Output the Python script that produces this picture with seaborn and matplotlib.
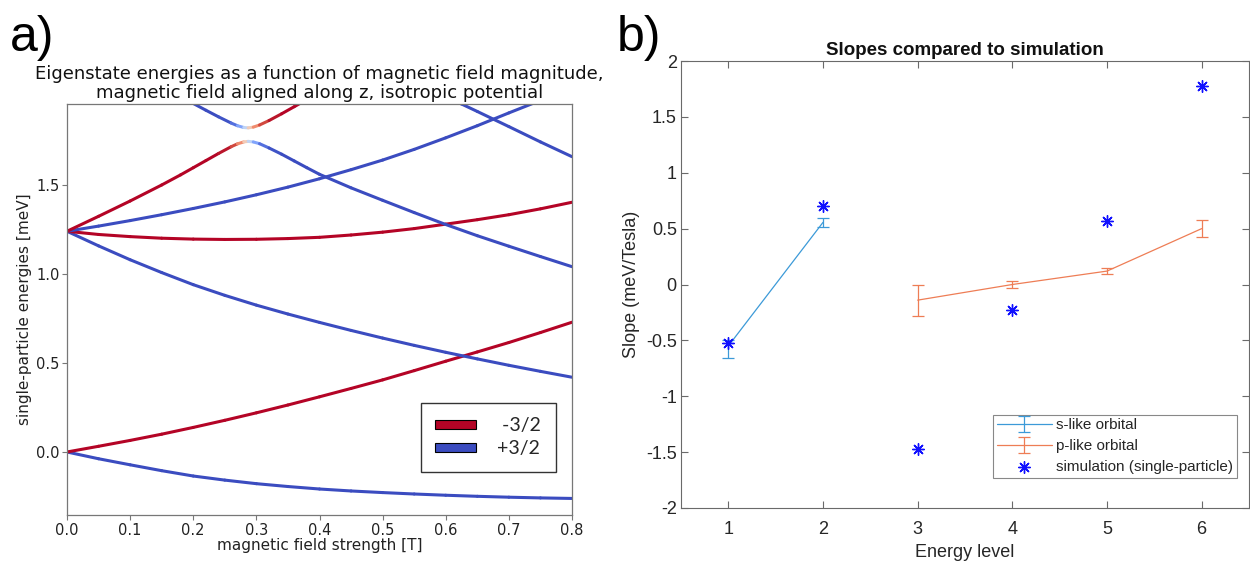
import numpy as np
import matplotlib
matplotlib.use("Agg")
import matplotlib.pyplot as plt
from matplotlib.collections import LineCollection
from matplotlib.colors import Normalize
from matplotlib.patches import Patch
from matplotlib.ticker import FixedLocator, FormatStrFormatter
import seaborn as sns

# ---------------- panel a: single-particle levels vs field ----------------
field_grid = [0.00, 0.05, 0.10, 0.15, 0.20, 0.25, 0.30, 0.35, 0.40,
              0.45, 0.50, 0.55, 0.60, 0.65, 0.70, 0.75, 0.80]

# ground shell
ground_up_E = [0.000, -0.038, -0.072, -0.105, -0.135, -0.158, -0.178, -0.194, -0.208,
               -0.219, -0.228, -0.236, -0.243, -0.249, -0.254, -0.258, -0.261]
ground_dn_E = [0.000, 0.032, 0.065, 0.100, 0.138, 0.178, 0.220, 0.264, 0.310,
               0.357, 0.405, 0.457, 0.510, 0.562, 0.615, 0.671, 0.729]

# first excited shell
shell1_fall_E = [1.240, 1.158, 1.080, 1.008, 0.940, 0.880, 0.825, 0.775, 0.728,
                 0.683, 0.640, 0.599, 0.560, 0.523, 0.487, 0.453, 0.420]
shell1_flat_E = [1.240, 1.222, 1.210, 1.201, 1.196, 1.194, 1.195, 1.199, 1.206,
                 1.219, 1.235, 1.255, 1.280, 1.305, 1.333, 1.366, 1.403]
shell1_rise_E = [1.240, 1.269, 1.300, 1.333, 1.368, 1.405, 1.445, 1.488, 1.535,
                 1.586, 1.640, 1.700, 1.765, 1.833, 1.905, 1.975, 2.050]

# lower branch of the avoided crossing near 0.29 T
lower_branch_B = [0.00, 0.05, 0.10, 0.15, 0.18, 0.20, 0.22, 0.24, 0.26, 0.27, 0.28, 0.287,
                  0.295, 0.305, 0.32, 0.34, 0.36, 0.38, 0.40, 0.45, 0.50, 0.55, 0.60,
                  0.65, 0.70, 0.75, 0.80]
lower_branch_E = [1.240, 1.324, 1.410, 1.500, 1.557, 1.597, 1.637, 1.677, 1.715, 1.731, 1.742, 1.745,
                  1.742, 1.732, 1.708, 1.673, 1.635, 1.597, 1.560, 1.484, 1.414, 1.345, 1.278,
                  1.215, 1.156, 1.098, 1.041]
lower_branch_S = [-1.5, -1.5, -1.5, -1.5, -1.5, -1.5, -1.5, -1.5, -1.4, -1.1, -0.6, 0.0,
                  0.6, 1.1, 1.4, 1.5, 1.5, 1.5, 1.5, 1.5, 1.5, 1.5, 1.5,
                  1.5, 1.5, 1.5, 1.5]

# upper branch of the same avoided crossing
upper_branch_B = [0.18, 0.20, 0.22, 0.24, 0.26, 0.27, 0.28, 0.287, 0.295, 0.305, 0.32, 0.34, 0.36, 0.38]
upper_branch_E = [1.996, 1.958, 1.920, 1.883, 1.848, 1.833, 1.823, 1.821, 1.825, 1.837, 1.862, 1.900, 1.940, 1.980]
upper_branch_S = [1.5, 1.5, 1.5, 1.5, 1.4, 1.1, 0.6, 0.0, -0.6, -1.1, -1.4, -1.5, -1.5, -1.5]

# level entering from above near 0.62 T
high_level_B = [0.60, 0.625, 0.65, 0.70, 0.75, 0.80]
high_level_E = [1.995, 1.955, 1.913, 1.828, 1.742, 1.659]

SPIN_UP, SPIN_DOWN = 1.5, -1.5
legend_labels_a = [" -3/2", "+3/2"]

# ---------------- panel b: slopes ----------------
s_level = [1, 2]
s_slope = [-0.55, 0.556]
s_err_lo = [0.11, 0.038]
s_err_hi = [0.05, 0.038]

p_level = [3, 4, 5, 6]
p_slope = [-0.14, 0.00, 0.12, 0.50]
p_err = [0.14, 0.03, 0.03, 0.078]

sim_level = [1, 2, 3, 4, 5, 6]
sim_slope = [-0.526, 0.70, -1.476, -0.232, 0.565, 1.777]

# ---------------- styling ----------------
sns.set_theme(style="white")
plt.rcParams["font.family"] = ["DejaVu Sans"]
plt.rcParams["axes.unicode_minus"] = False

W, H = 1250, 563
fig = plt.figure(figsize=(W / 100, H / 100), dpi=100)

def px_axes(x0, y0, x1, y1):
    return fig.add_axes([x0 / W, 1 - y1 / H, (x1 - x0) / W, (y1 - y0) / H])

cmap = plt.get_cmap("coolwarm_r")
norm = Normalize(vmin=-1.5, vmax=1.5)

ax1 = px_axes(67, 104, 572, 515)

def draw_level(ax, b, e, spin):
    b = np.asarray(b, float)
    e = np.asarray(e, float)
    s = np.broadcast_to(np.asarray(spin, float), b.shape)
    pts = np.column_stack([b, e])
    segs = np.stack([pts[:-1], pts[1:]], axis=1)
    lc = LineCollection(segs, cmap=cmap, norm=norm, linewidths=2.2,
                        capstyle="round", joinstyle="round")
    lc.set_array(0.5 * (s[:-1] + s[1:]))
    ax.add_collection(lc)

draw_level(ax1, field_grid, ground_up_E, SPIN_UP)
draw_level(ax1, field_grid, ground_dn_E, SPIN_DOWN)
draw_level(ax1, field_grid, shell1_fall_E, SPIN_UP)
draw_level(ax1, field_grid, shell1_flat_E, SPIN_DOWN)
draw_level(ax1, field_grid, shell1_rise_E, SPIN_UP)
draw_level(ax1, lower_branch_B, lower_branch_E, lower_branch_S)
draw_level(ax1, upper_branch_B, upper_branch_E, upper_branch_S)
draw_level(ax1, high_level_B, high_level_E, SPIN_UP)

ax1.set_xlim(0, 0.8)
ax1.set_ylim(-0.354, 1.955)
ax1.xaxis.set_major_locator(FixedLocator(np.arange(0, 0.81, 0.1)))
ax1.xaxis.set_major_formatter(FormatStrFormatter("%.1f"))
ax1.yaxis.set_major_locator(FixedLocator([0.0, 0.5, 1.0, 1.5]))
ax1.yaxis.set_major_formatter(FormatStrFormatter("%.1f"))
for sp in ax1.spines.values():
    sp.set_color("#777777")
    sp.set_linewidth(0.9)
ax1.tick_params(direction="out", length=3.5, width=0.8, color="#777777",
                labelsize=10.5, labelcolor="#222222", pad=2,
                bottom=True, left=True)
ax1.set_xlabel("magnetic field strength [T]", fontsize=11, labelpad=0, color="#222222")
ax1.set_ylabel("single-particle energies [meV]", fontsize=11, labelpad=3, color="#222222")
ax1.set_title("Eigenstate energies as a function of magnetic field magnitude,\n"
              "magnetic field aligned along z, isotropic potential",
              fontsize=13, pad=4, color="#111111", linespacing=1.12)

handles_a = [Patch(facecolor=cmap(norm(SPIN_DOWN)), edgecolor="black", linewidth=0.8),
             Patch(facecolor=cmap(norm(SPIN_UP)), edgecolor="black", linewidth=0.8)]
leg_a = ax1.legend(handles_a, legend_labels_a, loc="lower right",
                   bbox_to_anchor=(0.968, 0.105), frameon=True, fancybox=False,
                   prop={"family": "Lato", "size": 14}, handlelength=2.1,
                   handleheight=0.35, handletextpad=1.1, labelspacing=0.3,
                   borderpad=0.75, borderaxespad=0)
leg_a.get_frame().set_edgecolor("black")
leg_a.get_frame().set_linewidth(1.0)

# ---------------- panel b ----------------
ax2 = px_axes(681, 61, 1249, 508)
mat_font = "Liberation Sans"
s_color = "#3c9ad8"
p_color = "#ee7d55"
frame_grey = "#6a6a6a"

eb_s = ax2.errorbar(s_level, s_slope, yerr=[s_err_lo, s_err_hi], color=s_color,
                    lw=0.9, elinewidth=0.9, capsize=4, capthick=0.9, label="s-like orbital")
eb_p = ax2.errorbar(p_level, p_slope, yerr=p_err, color=p_color,
                    lw=0.9, elinewidth=0.9, capsize=4, capthick=0.9, label="p-like orbital")
sns.scatterplot(x=sim_level, y=sim_slope, ax=ax2, marker=(8, 2, 0), s=70,
                color="#1010ff", edgecolor="#1010ff", linewidth=1.0,
                label="simulation (single-particle)", zorder=5)

ax2.set_xlim(0.5, 6.5)
ax2.set_ylim(-2, 2)
ax2.xaxis.set_major_locator(FixedLocator([1, 2, 3, 4, 5, 6]))
ax2.yaxis.set_major_locator(FixedLocator(np.arange(-2, 2.01, 0.5)))
ax2.yaxis.set_major_formatter(plt.FuncFormatter(lambda v, _: f"{v:g}"))
for sp in ax2.spines.values():
    sp.set_color(frame_grey)
    sp.set_linewidth(0.8)
ax2.tick_params(direction="in", length=5, width=0.8, color=frame_grey,
                labelsize=13, labelcolor="#262626",
                top=True, right=True, bottom=True, left=True)
ax2.tick_params(axis="x", pad=9)
ax2.tick_params(axis="y", pad=3)
for lab in ax2.get_xticklabels() + ax2.get_yticklabels():
    lab.set_family(mat_font)
ax2.set_xlabel("Energy level", fontsize=13, family=mat_font, color="#262626", labelpad=5)
ax2.set_ylabel("Slope (meV/Tesla)", fontsize=13, family=mat_font, color="#262626", labelpad=4)
ax2.set_title("Slopes compared to simulation", fontsize=13.5, fontweight="bold",
              family=mat_font, color="#111111", pad=4)

h, l = ax2.get_legend_handles_labels()
order = [l.index("s-like orbital"), l.index("p-like orbital"),
         l.index("simulation (single-particle)")]
leg_b = ax2.legend([h[i] for i in order], [l[i] for i in order], loc="lower right",
                   bbox_to_anchor=(0.979, 0.067), frameon=True, fancybox=False,
                   prop={"family": mat_font, "size": 11}, handlelength=3.6,
                   handletextpad=0.3, labelspacing=0.45, borderpad=0.25,
                   borderaxespad=0)
leg_b.get_frame().set_edgecolor(frame_grey)
leg_b.get_frame().set_linewidth(0.8)

# panel tags
fig.text(10 / W, 1 - 15 / H, "a)", fontsize=36, family="Liberation Sans",
         va="top", ha="left", color="black")
fig.text(617 / W, 1 - 15 / H, "b)", fontsize=36, family="Liberation Sans",
         va="top", ha="left", color="black")

fig.savefig("out.png", dpi=100, facecolor="white")
